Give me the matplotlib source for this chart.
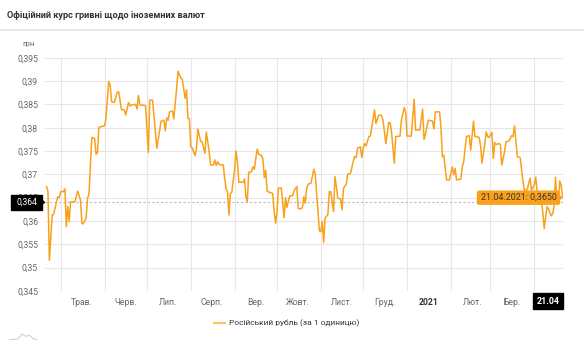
import numpy as np
import pandas as pd
import matplotlib
matplotlib.use("Agg")
import matplotlib.pyplot as plt
from matplotlib.patches import FancyBboxPatch, Polygon

plt.rcParams['font.family'] = ['Roboto', 'DejaVu Sans']

# days counted from the first point (21.04.2020), values in UAH per 1 RUB
start_date = '2020-04-21'
day_offset = [0, 1, 2, 4, 5, 7, 8, 9, 10, 12, 13, 14, 15, 16, 17, 20, 21, 22, 24, 25,
              26, 28, 29, 30, 31, 32, 34, 35, 36, 37, 38, 41, 42, 44, 45, 46, 48, 50, 51, 53,
              55, 56, 58, 59, 61, 63, 64, 65, 66, 70, 72, 73, 75, 78, 81, 83, 84, 85, 86, 87,
              89, 90, 92, 93, 95, 96, 98, 99, 100, 101, 102, 103, 105, 106, 107, 109, 110, 112, 113, 115,
              116, 118, 119, 120, 121, 122, 125, 126, 127, 128, 129, 130, 131, 133, 134, 135, 136, 139, 140, 141,
              142, 143, 145, 146, 147, 148, 149, 150, 152, 153, 154, 155, 156, 158, 160, 161, 162, 163, 164, 166,
              167, 168, 169, 170, 172, 174, 175, 176, 177, 178, 180, 181, 182, 183, 184, 185, 187, 188, 189, 190,
              192, 193, 194, 195, 196, 197, 199, 200, 201, 203, 204, 205, 206, 208, 209, 210, 212, 213, 215, 217,
              218, 219, 220, 222, 223, 224, 225, 226, 228, 229, 231, 232, 233, 235, 237, 238, 240, 241, 242, 243,
              244, 246, 247, 250, 251, 253, 254, 255, 258, 260, 261, 264, 266, 267, 268, 270, 272, 273, 274, 275,
              278, 279, 280, 281, 282, 283, 285, 287, 288, 289, 290, 293, 294, 295, 297, 299, 300, 302, 303, 304,
              306, 307, 308, 310, 311, 312, 313, 315, 316, 317, 318, 320, 321, 322, 324, 325, 327, 329, 330, 331,
              332, 333, 335, 337, 338, 340, 341, 342, 343, 345, 346, 347, 349, 350, 351, 352, 354, 355, 357, 358,
              359, 360, 361, 362, 363, 364, 365]
rub_rate = [0.3674, 0.3663, 0.3516, 0.3613, 0.3614, 0.3641, 0.3652, 0.3650, 0.3663, 0.3663,
            0.3669, 0.3588, 0.3631, 0.3599, 0.3641, 0.3641, 0.3652, 0.3664, 0.3645, 0.3595,
            0.3594, 0.3606, 0.3649, 0.3657, 0.3720, 0.3779, 0.3777, 0.3743, 0.3747, 0.3800,
            0.3802, 0.3804, 0.3820, 0.3899, 0.3891, 0.3856, 0.3854, 0.3876, 0.3877, 0.3839,
            0.3838, 0.3827, 0.3854, 0.3847, 0.3849, 0.3850, 0.3840, 0.3869, 0.3849, 0.3847,
            0.3747, 0.3859, 0.3859, 0.3756, 0.3814, 0.3816, 0.3793, 0.3821, 0.3816, 0.3834,
            0.3836, 0.3819, 0.3884, 0.3921, 0.3906, 0.3904, 0.3863, 0.3881, 0.3820, 0.3819,
            0.3759, 0.3757, 0.3740, 0.3754, 0.3797, 0.3771, 0.3770, 0.3745, 0.3791, 0.3749,
            0.3720, 0.3720, 0.3731, 0.3719, 0.3727, 0.3721, 0.3720, 0.3691, 0.3669, 0.3663,
            0.3613, 0.3659, 0.3661, 0.3709, 0.3750, 0.3727, 0.3683, 0.3683, 0.3690, 0.3652,
            0.3641, 0.3704, 0.3706, 0.3716, 0.3711, 0.3734, 0.3754, 0.3743, 0.3741, 0.3733,
            0.3693, 0.3709, 0.3664, 0.3661, 0.3659, 0.3620, 0.3595, 0.3620, 0.3670, 0.3671,
            0.3641, 0.3607, 0.3650, 0.3629, 0.3654, 0.3654, 0.3664, 0.3669, 0.3674, 0.3627,
            0.3626, 0.3629, 0.3652, 0.3638, 0.3670, 0.3679, 0.3681, 0.3695, 0.3711, 0.3702,
            0.3620, 0.3579, 0.3577, 0.3599, 0.3554, 0.3606, 0.3614, 0.3663, 0.3663, 0.3620,
            0.3695, 0.3674, 0.3649, 0.3647, 0.3624, 0.3670, 0.3679, 0.3700, 0.3702, 0.3729,
            0.3738, 0.3736, 0.3756, 0.3759, 0.3736, 0.3757, 0.3766, 0.3761, 0.3781, 0.3782,
            0.3819, 0.3838, 0.3809, 0.3827, 0.3826, 0.3816, 0.3766, 0.3788, 0.3811, 0.3811,
            0.3791, 0.3724, 0.3781, 0.3782, 0.3816, 0.3843, 0.3834, 0.3782, 0.3782, 0.3861,
            0.3795, 0.3795, 0.3840, 0.3775, 0.3786, 0.3816, 0.3815, 0.3814, 0.3797, 0.3834,
            0.3834, 0.3799, 0.3738, 0.3741, 0.3713, 0.3688, 0.3688, 0.3716, 0.3699, 0.3713,
            0.3688, 0.3690, 0.3716, 0.3726, 0.3781, 0.3783, 0.3752, 0.3814, 0.3781, 0.3781,
            0.3779, 0.3761, 0.3724, 0.3766, 0.3791, 0.3781, 0.3779, 0.3790, 0.3734, 0.3768,
            0.3764, 0.3766, 0.3764, 0.3720, 0.3749, 0.3770, 0.3771, 0.3783, 0.3781, 0.3804,
            0.3770, 0.3738, 0.3736, 0.3684, 0.3666, 0.3668, 0.3680, 0.3692, 0.3666, 0.3677,
            0.3694, 0.3663, 0.3652, 0.3641, 0.3620, 0.3584, 0.3631, 0.3626, 0.3611, 0.3616,
            0.3631, 0.3694, 0.3638, 0.3636, 0.3686, 0.3676, 0.3650]

month_labels = ['Трав.', 'Черв.', 'Лип.', 'Серп.', 'Вер.', 'Жовт.', 'Лист.', 'Груд.',
                '2021', 'Лют.', 'Бер.']
y_ticks = [0.345, 0.35, 0.355, 0.36, 0.365, 0.37, 0.375, 0.38, 0.385, 0.39, 0.395]
y_labels = ['0,345', '0,35', '0,355', '0,36', '0,365', '0,37', '0,375', '0,38',
            '0,385', '0,39', '0,395']
cross_value = 0.364
last_label = '21.04.2021: 0,3650'
series_name = 'Російський рубль (за 1 одиницю)'

t0 = pd.Timestamp(start_date)
dates = t0 + pd.to_timedelta(day_offset, unit='D')
last_date = dates[-1]

line_color = '#f9a11b'
grid_color = '#e6e6e6'
text_color = '#666666'

fig = plt.figure(figsize=(5.84, 3.5), dpi=100)
fig.patch.set_facecolor('white')

# header
fig.text(7 / 584, 1 - 15.5 / 350, 'Офіційний курс гривні щодо іноземних валют',
         fontsize=6.6, color='#333333', weight='bold', va='center', ha='left')
fig.add_artist(plt.Line2D([0, 1], [1 - 29.5 / 350] * 2, color='#e3e3e3', lw=1.2))

ax = fig.add_axes([45 / 584, 1 - 291 / 350, 518 / 584, 233.3 / 350])
ax.plot(dates, rub_rate, color=line_color, lw=1.1, zorder=3)

ax.set_xlim(t0 - pd.Timedelta(days=1.1), last_date + pd.Timedelta(days=0.3))
ax.set_ylim(0.345, 0.395)

month_starts = pd.date_range('2020-05-01', '2021-04-01', freq='MS')
ax.set_xticks(month_starts)
ax.set_xticklabels([''] * len(month_starts))
mid_months = month_starts[:-1] + pd.Timedelta(days=15)
ax.set_xticks(mid_months, minor=True)
ax.set_xticklabels(month_labels, minor=True)
for lab in ax.get_xticklabels(minor=True):
    lab.set_fontsize(6.2)
    lab.set_color(text_color)
    if lab.get_text() == '2021':
        lab.set_fontweight('bold')
        lab.set_color('#333333')
ax.tick_params(axis='x', which='both', length=0, pad=5)

ax.set_yticks(y_ticks)
ax.set_yticklabels(y_labels)
ax.tick_params(axis='y', length=0, pad=5, labelsize=6.2, labelcolor=text_color)

ax.grid(True, which='major', color=grid_color, lw=0.8)
for s in ax.spines.values():
    s.set_visible(False)

# crosshair
ax.axhline(cross_value, color='#bbbbbb', lw=0.8, ls=(0, (2, 2)), zorder=2)
ax.axvline(last_date, color='#bbbbbb', lw=0.8, ls=(0, (2, 2)), zorder=2)

fig.text(22 / 584, 1 - 44 / 350, 'грн', fontsize=5.8, color=text_color,
         ha='left', va='center')

# black y-axis flag (covers the 0,365 label as in the original)
ybox = ax.transData.transform((0, cross_value))[1] / (fig.dpi * 3.5)
fig.add_artist(FancyBboxPatch((11 / 584, ybox - 7.5 / 350), 31 / 584, 15 / 350,
                              boxstyle='square,pad=0', fc='black', ec='black', zorder=10))
fig.add_artist(Polygon([[42 / 584, ybox + 3 / 350], [45.5 / 584, ybox], [42 / 584, ybox - 3 / 350]],
                       closed=True, fc='black', ec='none', zorder=10))
fig.text(26.5 / 584, ybox, '0,364', fontsize=6.2, color='white', ha='center', va='center', zorder=11)

# black x-axis flag
fig.add_artist(FancyBboxPatch((533 / 584, 1 - 309 / 350), 30 / 584, 16 / 350,
                              boxstyle='square,pad=0', fc='black', ec='black', zorder=10))
fig.text(548 / 584, 1 - 301 / 350, '21.04', fontsize=6.4, color='white', weight='bold',
         ha='center', va='center', zorder=11)

# tooltip
ylast = ax.transData.transform((0, rub_rate[-1]))[1] / (fig.dpi * 3.5)
tip = FancyBboxPatch((477.5 / 584, ylast - 6.5 / 350), 82 / 584, 13 / 350,
                     boxstyle='round,pad=0,rounding_size=0.004', fc=line_color, ec=line_color,
                     zorder=10)
fig.add_artist(tip)
fig.add_artist(Polygon([[559.5 / 584, ylast + 3 / 350], [562.5 / 584, ylast], [559.5 / 584, ylast - 3 / 350]],
                       closed=True, fc=line_color, ec='none', zorder=10))
fig.text(518.5 / 584, ylast, last_label, fontsize=6.4, color='#333333', ha='center', va='center',
         zorder=11)

# legend
fig.add_artist(plt.Line2D([214 / 584, 225 / 584], [1 - 323 / 350] * 2, color='#ffc46b', lw=1.6))
fig.text(229 / 584, 1 - 323 / 350, series_name, fontsize=6.0, color='#333333', ha='left',
         va='center')

# small logo bottom-left
fig.add_artist(plt.Line2D([10 / 584, 18 / 584, 22 / 584, 26 / 584, 29 / 584, 33 / 584, 37 / 584],
                          [1 - 339.5 / 350, 1 - 339 / 350, 1 - 334 / 350, 1 - 336.5 / 350,
                           1 - 335 / 350, 1 - 338.5 / 350, 1 - 339.5 / 350],
                          color='#cccccc', lw=0.7))

fig.savefig('out.png', dpi=100)
